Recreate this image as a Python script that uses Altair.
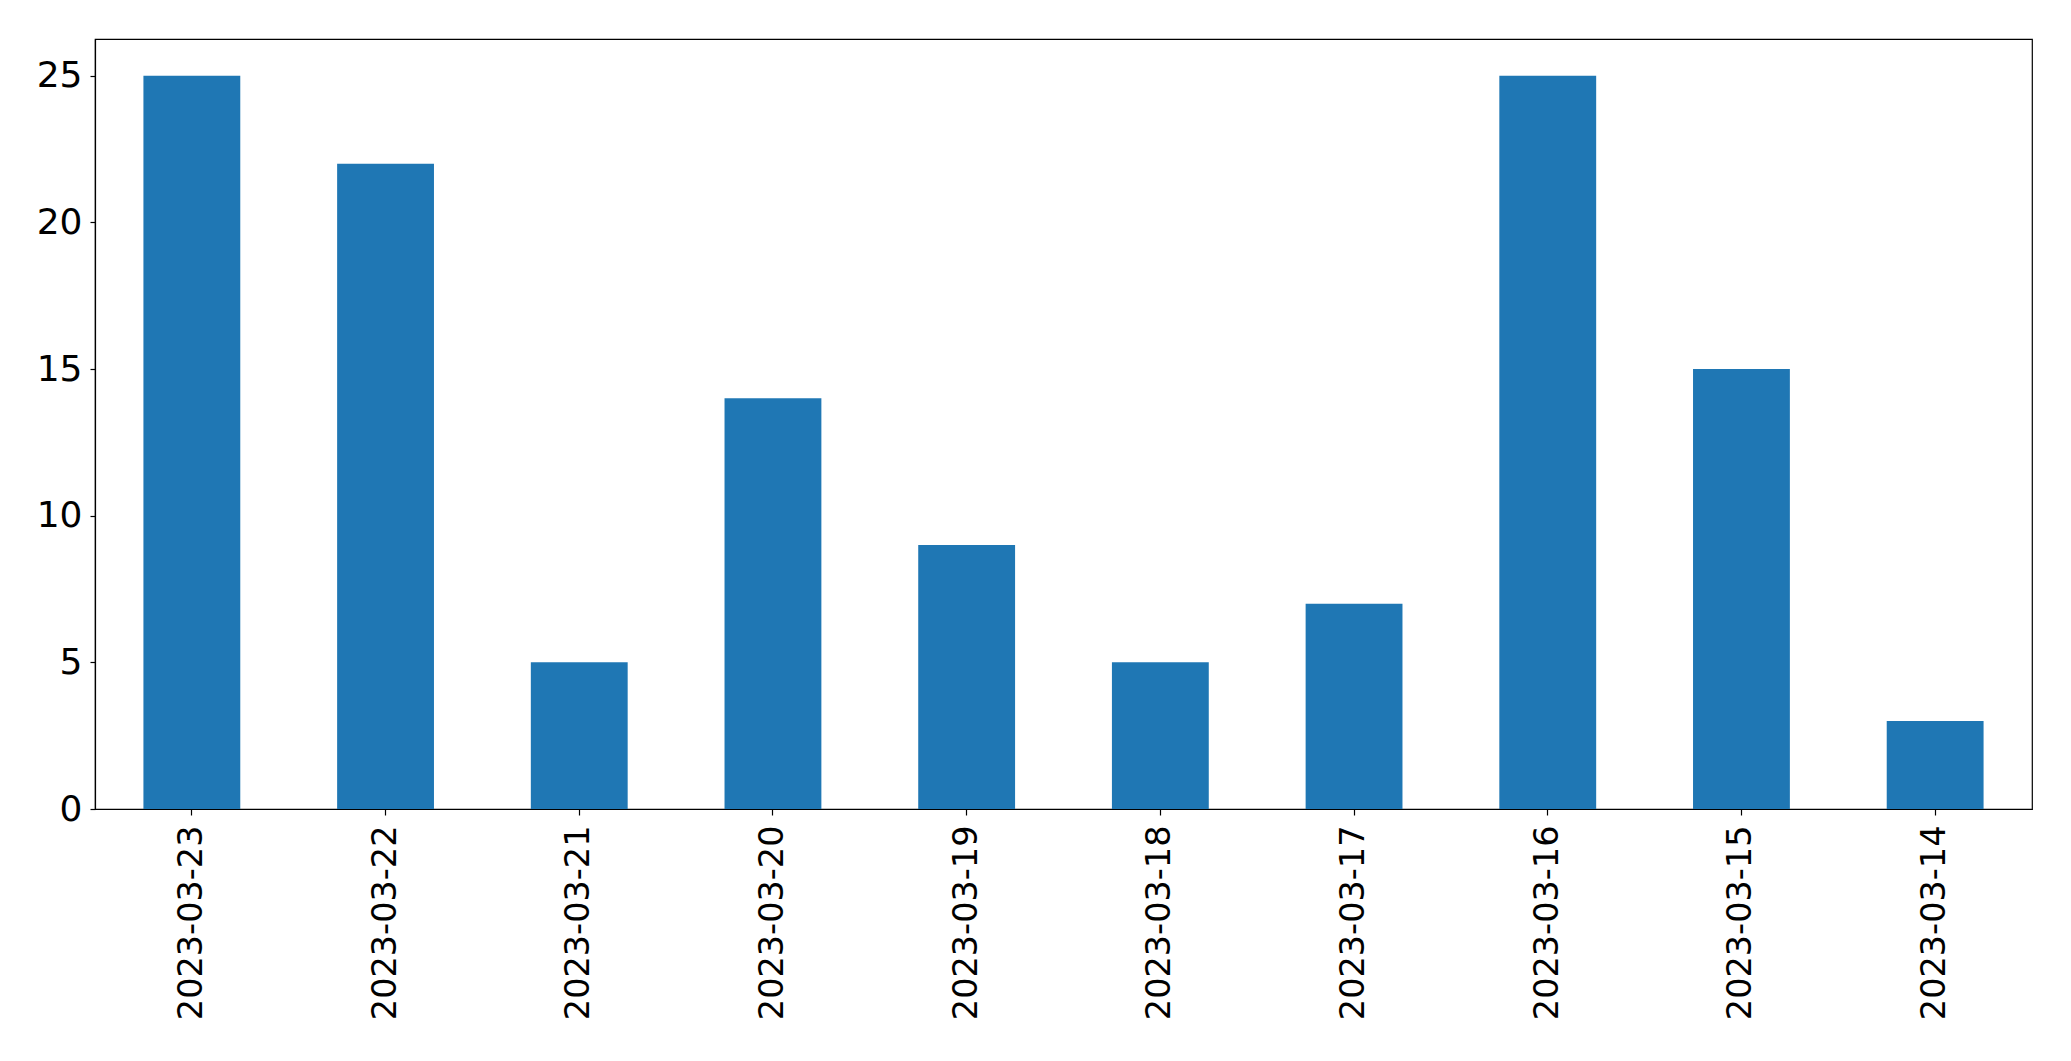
import altair as alt
import pandas as pd

dates = ["2023-03-23", "2023-03-22", "2023-03-21", "2023-03-20", "2023-03-19",
         "2023-03-18", "2023-03-17", "2023-03-16", "2023-03-15", "2023-03-14"]
counts = [25, 22, 5, 14, 9, 5, 7, 25, 15, 3]
y_ticks = [0, 5, 10, 15, 20, 25]

df = pd.DataFrame({"date": dates, "count": counts})

chart = alt.Chart(df).mark_bar(color="#1f77b4").encode(
    x=alt.X("date:N", sort=dates, title=None,
            scale=alt.Scale(paddingInner=0.5, paddingOuter=0.25),
            axis=alt.Axis(labelAngle=270, labelAlign="right", labelBaseline="middle",
                          labelFontSize=33.5, labelPadding=10, tickSize=6, labelLimit=0,
                          labelColor="black", tickColor="black", domainColor="black")),
    y=alt.Y("count:Q", title=None,
            scale=alt.Scale(domain=[0, 26.25], nice=False, zero=True),
            axis=alt.Axis(values=y_ticks, labelFontSize=36, labelPadding=8, tickSize=5,
                          grid=False, labelColor="black", tickColor="black",
                          domainColor="black")),
).properties(
    width=1937, height=770,
    padding={"left": 28, "top": 31, "right": 5, "bottom": 5},
).configure_view(
    stroke="black", strokeWidth=1.2
).configure_axis(
    labelFont="DejaVu Sans", domainWidth=1.2, tickWidth=1.2
)

chart.save("out.html", embed_options={"renderer": "svg", "actions": False})
